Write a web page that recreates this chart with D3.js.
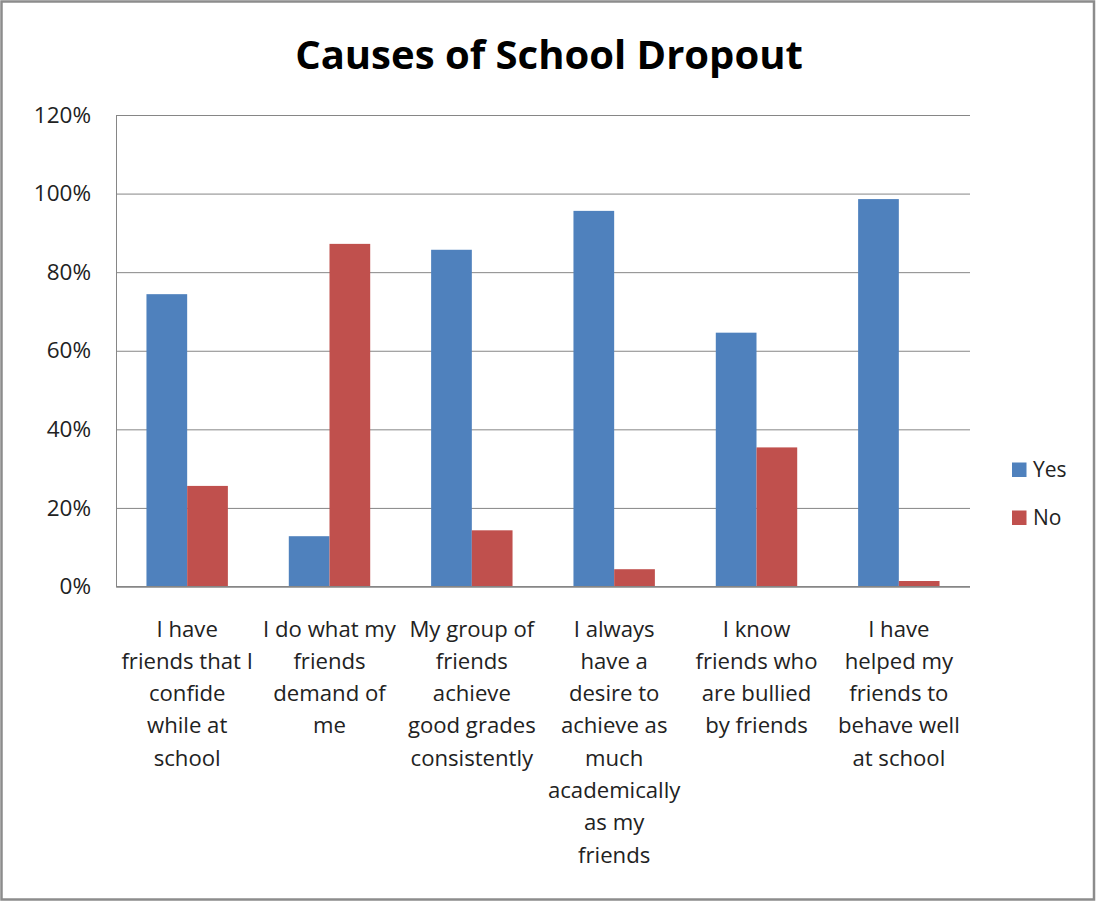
<!DOCTYPE html>
<html>
<head>
<meta charset="utf-8">
<script src="https://cdn.jsdelivr.net/npm/d3@7"></script>
<style>
  html, body { margin: 0; padding: 0; background: #fff; }
  svg { display: block; }
  text { font-family: "Open Sans", "Noto Sans", sans-serif; fill: #222; }
</style>
</head>
<body>
<svg id="chart" width="1096" height="901"></svg>
<script>
// Survey answers per statement (share of respondents)
const categories = [
  ["I have", "friends that I", "confide", "while at", "school"],
  ["I do what my", "friends", "demand of", "me"],
  ["My group of", "friends", "achieve", "good grades", "consistently"],
  ["I always", "have a", "desire to", "achieve as", "much", "academically", "as my", "friends"],
  ["I know", "friends who", "are bullied", "by friends"],
  ["I have", "helped my", "friends to", "behave well", "at school"]
];
const seriesNames = ["Yes", "No"];
const yesValues = [0.744, 0.128, 0.857, 0.956, 0.646, 0.986];
const noValues  = [0.256, 0.872, 0.143, 0.044, 0.354, 0.014];
const yTicks = [0, 0.2, 0.4, 0.6, 0.8, 1.0, 1.2];
const colors = ["#4F81BD", "#C0504D"];
const title = "Causes of School Dropout";

const svg = d3.select("#chart");
const W = 1096, H = 901;
const plot = { left: 116, right: 970, top: 115, bottom: 586.5 };

// outer chart frame
svg.append("rect")
  .attr("x", 1.5).attr("y", 1.5)
  .attr("width", W - 3.5).attr("height", H - 3)
  .attr("fill", "#fff").attr("stroke", "#8c8c8c").attr("stroke-width", 2.5);

const catIdx = categories.map((d, i) => i);
const x = d3.scaleBand().domain(catIdx)
  .range([plot.left, plot.right]).paddingInner(0.428).paddingOuter(0.214);
const xs = d3.scaleBand().domain(seriesNames).range([0, x.bandwidth()]).padding(0);
const y = d3.scaleLinear().domain([0, 1.2]).range([plot.bottom, plot.top]);

// value axis with horizontal gridlines
const yAxis = d3.axisLeft(y).tickValues(yTicks)
  .tickSize(-(plot.right - plot.left)).tickPadding(25).tickFormat(d3.format(".0%"));
const gy = svg.append("g").attr("transform", `translate(${plot.left},0)`).call(yAxis);
gy.select(".domain").attr("stroke", "#868686");
gy.selectAll(".tick line").attr("stroke", "#868686").attr("stroke-width", 1);
gy.selectAll(".tick text")
  .attr("font-size", 22.5)
  .attr("font-family", "'Open Sans', sans-serif")
  .attr("fill", "#222");

// bars
const rows = catIdx.map(i => ({ i, vals: [yesValues[i], noValues[i]] }));
const groups = svg.append("g").selectAll("g").data(rows).join("g")
  .attr("transform", d => `translate(${x(d.i)},0)`);
groups.selectAll("rect")
  .data(d => d.vals.map((v, k) => ({ v, k })))
  .join("rect")
  .attr("x", d => xs(seriesNames[d.k]))
  .attr("width", xs.bandwidth())
  .attr("y", d => y(d.v))
  .attr("height", d => y(0) - y(d.v))
  .attr("fill", d => colors[d.k]);

// category axis line
svg.append("line")
  .attr("x1", plot.left).attr("x2", plot.right)
  .attr("y1", y(0)).attr("y2", y(0))
  .attr("stroke", "#868686");

// category labels (wrapped lines, centred under each group)
const lineH = 32.3, firstBase = 636.5;
const labG = svg.append("g");
rows.forEach(r => {
  const cx = x(r.i) + x.bandwidth() / 2;
  const t = labG.append("text")
    .attr("text-anchor", "middle")
    .attr("font-size", 21.5)
    .attr("transform", `translate(${cx},${firstBase}) scale(1.03,1)`);
  categories[r.i].forEach((line, j) => {
    t.append("tspan").attr("x", 0).attr("y", j * lineH).text(line);
  });
});

// title
svg.append("text")
  .attr("text-anchor", "middle")
  .attr("x", 549).attr("y", 69)
  .attr("font-size", 40)
  .attr("font-weight", "bold")
  .style("fill", "#000")
  .text(title);

// legend
const leg = svg.append("g").attr("transform", "translate(1012,462.5)");
seriesNames.forEach((name, k) => {
  const g = leg.append("g").attr("transform", `translate(0,${k * 48})`);
  g.append("rect").attr("width", 14.5).attr("height", 14.5).attr("fill", colors[k]);
  g.append("text").attr("x", 21).attr("y", 14.8).attr("font-size", 21).text(name);
});
</script>
</body>
</html>
